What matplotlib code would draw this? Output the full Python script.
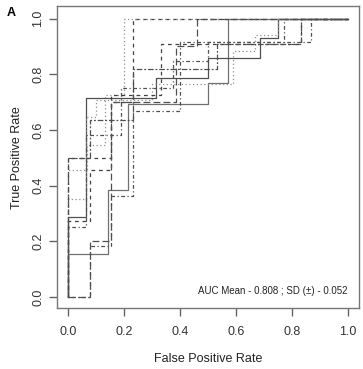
import matplotlib.pyplot as plt

# ROC curves of the 10 folds (corner points of each step curve)
fpr_1 = [0, 0, 0.143, 0.143, 0.214, 0.214, 0.5, 0.5, 0.571, 0.571, 1]
tpr_1 = [0, 0.154, 0.154, 0.385, 0.385, 0.692, 0.692, 0.769, 0.769, 1, 1]
fpr_2 = [0, 0, 0.0625, 0.0625, 0.3125, 0.3125, 0.5, 0.5, 0.6875, 0.6875, 0.75, 0.75, 1]
tpr_2 = [0, 0.286, 0.286, 0.714, 0.714, 0.786, 0.786, 0.857, 0.857, 0.929, 0.929, 1, 1]
fpr_3 = [0, 0, 0.154, 0.154, 0.231, 0.231, 1]
tpr_3 = [0, 0.5, 0.5, 0.7, 0.7, 1, 1]
fpr_4 = [0, 0, 0.067, 0.067, 0.133, 0.133, 0.2, 0.2, 1]
tpr_4 = [0, 0.455, 0.455, 0.545, 0.545, 0.727, 0.727, 1, 1]
fpr_5 = [0, 0, 0.0625, 0.0625, 0.1, 0.1, 0.3, 0.3, 0.59, 0.59, 0.667, 0.667, 0.75, 0.75, 1]
tpr_5 = [0, 0.353, 0.353, 0.647, 0.647, 0.706, 0.706, 0.765, 0.765, 0.882, 0.882, 0.941, 0.941, 1, 1]
fpr_6 = [0, 0, 0.0625, 0.0625, 0.1875, 0.1875, 0.375, 0.375, 0.5, 0.5, 0.77, 0.77, 1]
tpr_6 = [0, 0.25, 0.25, 0.583, 0.583, 0.75, 0.75, 0.846, 0.846, 0.917, 0.917, 1, 1]
fpr_7 = [0, 0, 0.077, 0.077, 0.154, 0.154, 0.333, 0.333, 0.833, 0.833, 1]
tpr_7 = [0, 0.273, 0.273, 0.455, 0.455, 0.727, 0.727, 0.909, 0.909, 1, 1]
fpr_8 = [0, 0.077, 0.077, 0.154, 0.154, 0.231, 0.231, 0.4, 0.4, 0.867, 0.867, 1]
tpr_8 = [0, 0, 0.182, 0.182, 0.364, 0.364, 0.667, 0.667, 0.917, 0.917, 1, 1]
fpr_9 = [0, 0.077, 0.077, 0.154, 0.154, 0.385, 0.385, 0.46, 0.46, 1]
tpr_9 = [0, 0, 0.2, 0.2, 0.7, 0.7, 0.9, 0.9, 1, 1]
fpr_10 = [0, 0, 0.077, 0.077, 0.231, 0.231, 0.533, 0.533, 0.833, 0.833, 1]
tpr_10 = [0, 0.5, 0.5, 0.636, 0.636, 0.818, 0.818, 0.909, 0.909, 1, 1]

auc_mean = 0.808
auc_sd = 0.052

plt.rcParams['font.family'] = ['Liberation Sans', 'DejaVu Sans']

# R style line types
solid = None
dashed = (3, 3)
dotted = (1, 2)
dotdash = (1, 2, 3, 2)
longdash = (5.5, 2.5)
twodash = (1.5, 1.5, 4.5, 1.5)

curves = [
    (fpr_1, tpr_1, solid, '#707070'),
    (fpr_2, tpr_2, solid, '#505050'),
    (fpr_3, tpr_3, dashed, '#404040'),
    (fpr_4, tpr_4, dotted, '#909090'),
    (fpr_5, tpr_5, dotted, '#909090'),
    (fpr_6, tpr_6, dotdash, '#505050'),
    (fpr_7, tpr_7, dashed, '#404040'),
    (fpr_8, tpr_8, dotdash, '#505050'),
    (fpr_9, tpr_9, longdash, '#505050'),
    (fpr_10, tpr_10, twodash, '#505050'),
]

fig = plt.figure(figsize=(3.63, 3.69), dpi=100)
ax = fig.add_axes([0.157, 0.165, 0.832, 0.818])

for fpr, tpr, dash, col in curves:
    line, = ax.plot(fpr, tpr, color=col, linewidth=0.9)
    if dash is not None:
        line.set_dashes(dash)

ax.set_xlim(-0.04, 1.04)
ax.set_ylim(-0.04, 1.044)
ax.set_xticks([0, 0.2, 0.4, 0.6, 0.8, 1.0])
ax.set_yticks([0, 0.2, 0.4, 0.6, 0.8, 1.0])
ax.set_xticklabels(['0.0', '0.2', '0.4', '0.6', '0.8', '1.0'])
ax.set_yticklabels(['0.0', '0.2', '0.4', '0.6', '0.8', '1.0'], rotation=90, va='center')
ax.tick_params(direction='out', length=6, width=1, color='#666666',
               labelsize=9, labelcolor='#333333')
ax.tick_params(axis='x', pad=7)
ax.tick_params(axis='y', pad=3)
for sp in ax.spines.values():
    sp.set_color('#777777')
    sp.set_linewidth(1)

ax.set_xlabel('False Positive Rate', fontsize=9, color='#222222', labelpad=11)
ax.set_ylabel('True Positive Rate', fontsize=9, color='#222222', labelpad=7)

ax.text(1.0, 0.02, f'AUC Mean - {auc_mean:.3f} ; SD (\u00b1) - {auc_sd:.3f}',
        ha='right', va='center', fontsize=7, color='#222222')

fig.text(0.018, 0.965, 'A', fontsize=9, fontweight='bold', ha='left', va='center')

fig.savefig('out.png', dpi=100)
